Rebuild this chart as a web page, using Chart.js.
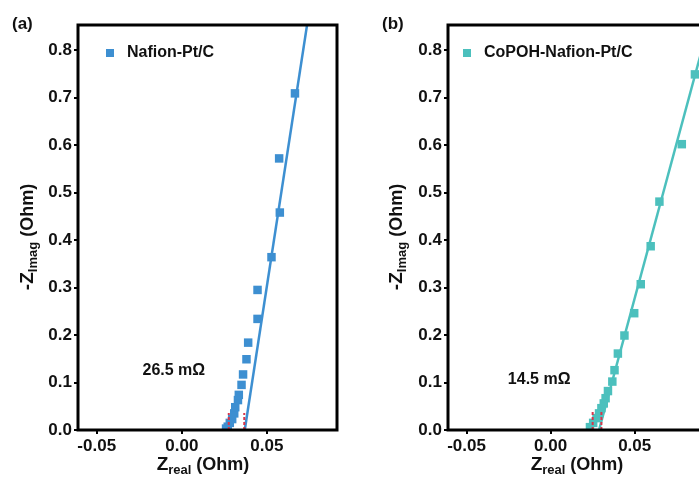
<!DOCTYPE html>
<html>
<head>
<meta charset="utf-8">
<script src="https://cdn.jsdelivr.net/npm/chart.js@4.4.1/dist/chart.umd.min.js"></script>
<style>
  html, body { margin: 0; padding: 0; background: #fff; overflow: hidden; width: 699px; height: 481px; }
  .panel { position: absolute; top: 0; }
</style>
</head>
<body>
<div class="panel" style="left:0"><canvas id="chartA" width="350" height="481"></canvas></div>
<div class="panel" style="left:350px"><canvas id="chartB" width="360" height="481"></canvas></div>
<script>
// axis ranges / ticks
const xRange = [-0.061, 0.0912];
const yRange = [0, 0.853];
const xStep = 0.05;
const yStep = 0.1;

// (a) Nafion-Pt/C
const zRealA = [0.026, 0.027, 0.0282, 0.0296, 0.0308, 0.0314, 0.033, 0.0335, 0.0351, 0.036, 0.038, 0.039, 0.0445, 0.0445, 0.0527, 0.0576, 0.0572, 0.0665];
const zImagA = [0.003, 0.007, 0.015, 0.023, 0.035, 0.048, 0.063, 0.074, 0.095, 0.117, 0.149, 0.184, 0.234, 0.295, 0.364, 0.458, 0.572, 0.709];
const fitAx = [0.037, 0.0736];
const fitAy = [0, 0.853];
const rsAx = [0.0276, 0.0367];
const rsAtop = 0.036;

// (b) CoPOH-Nafion-Pt/C
const zRealB = [0.0234, 0.0253, 0.0273, 0.0288, 0.0302, 0.0316, 0.0327, 0.0341, 0.0367, 0.038, 0.040, 0.0439, 0.0497, 0.0536, 0.0595, 0.0647, 0.078, 0.0858];
const zImagB = [0.006, 0.015, 0.025, 0.035, 0.046, 0.056, 0.067, 0.082, 0.102, 0.126, 0.161, 0.199, 0.246, 0.307, 0.387, 0.481, 0.602, 0.749];
const fitBx = [0.0288, 0.095];
const fitBy = [0, 0.867];
const rsBx = [0.025, 0.0302];
const rsBtop = 0.038;

const FONT = "'Liberation Sans', Arial, sans-serif";

function pts(xs, ys) { return xs.map((x, i) => ({ x: x, y: ys[i] })); }

function richText(ctx, parts, cx, cy) {
  let w = 0;
  parts.forEach(p => { ctx.font = "bold " + p.size + "px " + FONT; w += ctx.measureText(p.t).width; });
  let x = cx - w / 2;
  ctx.textBaseline = "middle";
  ctx.textAlign = "left";
  parts.forEach(p => {
    ctx.font = "bold " + p.size + "px " + FONT;
    ctx.fillText(p.t, x, cy + (p.dy || 0));
    x += ctx.measureText(p.t).width;
  });
}

const decorPlugin = {
  id: "decor",
  afterDraw(chart, args, o) {
    const ctx = chart.ctx;
    const a = chart.chartArea;
    const sx = chart.scales.x, sy = chart.scales.y;
    ctx.save();
    // frame
    ctx.strokeStyle = "#000";
    ctx.lineWidth = 3;
    ctx.strokeRect(a.left, a.top, a.right - a.left, a.bottom - a.top);
    ctx.fillStyle = "#111";
    // panel letter
    ctx.font = "bold 17px " + FONT;
    ctx.textAlign = "left";
    ctx.textBaseline = "middle";
    ctx.fillText(o.letter, o.letterX, 24);
    // legend
    ctx.fillStyle = o.color;
    ctx.fillRect(o.legX - 4, 49, 8, 8);
    ctx.fillStyle = "#111";
    ctx.font = "bold 16px " + FONT;
    ctx.fillText(o.name, o.legX + 17, 53);
    // resistance note
    ctx.textAlign = "center";
    ctx.fillText(o.note, sx.getPixelForValue(o.noteX), sy.getPixelForValue(o.noteY));
    // axis titles
    richText(ctx, [{ t: "Z", size: 19 }, { t: "real", size: 13, dy: 5 }, { t: " (Ohm)", size: 18 }], o.xTitleX, 465);
    ctx.translate(o.yTitleX, 237);
    ctx.rotate(-Math.PI / 2);
    richText(ctx, [{ t: "-Z", size: 19 }, { t: "Imag", size: 13, dy: 5 }, { t: " (Ohm)", size: 18 }], 0, 0);
    ctx.restore();
  }
};

function makeChart(id, o) {
  const rsSets = o.rsX.map(x => ({
    type: "line",
    data: [{ x: x, y: 0 }, { x: x, y: o.rsTop }],
    borderColor: "#d8354a",
    borderWidth: 2,
    borderDash: [3, 2],
    pointRadius: 0,
    order: 0
  }));
  return new Chart(document.getElementById(id), {
    type: "scatter",
    data: {
      datasets: [
        {
          data: pts(o.xs, o.ys),
          pointStyle: "rect",
          pointRadius: 6,
          backgroundColor: o.color,
          borderColor: o.color,
          borderWidth: 0,
          order: 2
        },
        {
          type: "line",
          data: pts(o.fitX, o.fitY),
          borderColor: o.color,
          borderWidth: 2.5,
          pointRadius: 0,
          order: 1
        },
        ...rsSets
      ]
    },
    options: {
      responsive: false,
      animation: false,
      layout: { padding: { left: 0, top: 25, right: o.padRight, bottom: 0 } },
      plugins: {
        legend: { display: false },
        tooltip: { enabled: false },
        decor: o.decor
      },
      scales: {
        x: {
          type: "linear",
          min: xRange[0], max: xRange[1],
          afterFit: s => { s.height = 51; },
          border: { display: false },
          grid: { drawOnChartArea: false, tickLength: 4, color: "#000", lineWidth: 2 },
          ticks: {
            stepSize: xStep, includeBounds: false, padding: 2,
            color: "#111", font: { family: FONT, size: 17, weight: "bold" },
            callback: v => v.toFixed(2)
          }
        },
        y: {
          type: "linear",
          min: yRange[0], max: yRange[1],
          afterFit: s => { s.width = o.yWidth; },
          border: { display: false },
          grid: { drawOnChartArea: false, tickLength: 4, color: "#000", lineWidth: 2 },
          ticks: {
            stepSize: yStep, includeBounds: false, padding: 2,
            color: "#111", font: { family: FONT, size: 17, weight: "bold" },
            callback: v => v.toFixed(1)
          }
        }
      }
    },
    plugins: [decorPlugin]
  });
}

makeChart("chartA", {
  xs: zRealA, ys: zImagA, fitX: fitAx, fitY: fitAy, rsX: rsAx, rsTop: rsAtop,
  color: "#3d8fd1", padRight: 13, yWidth: 78,
  decor: { letter: "(a)", letterX: 12, name: "Nafion-Pt/C", color: "#3d8fd1", legX: 110,
           note: "26.5 m\u03A9", noteX: -0.0047, noteY: 0.126, xTitleX: 203, yTitleX: 28 }
});

makeChart("chartB", {
  xs: zRealB, ys: zImagB, fitX: fitBx, fitY: fitBy, rsX: rsBx, rsTop: rsBtop,
  color: "#4cc0bd", padRight: 3, yWidth: 98,
  decor: { letter: "(b)", letterX: 32, name: "CoPOH-Nafion-Pt/C", color: "#4cc0bd", legX: 117,
           note: "14.5 m\u03A9", noteX: -0.0068, noteY: 0.107, xTitleX: 227, yTitleX: 47 }
});
</script>
</body>
</html>
